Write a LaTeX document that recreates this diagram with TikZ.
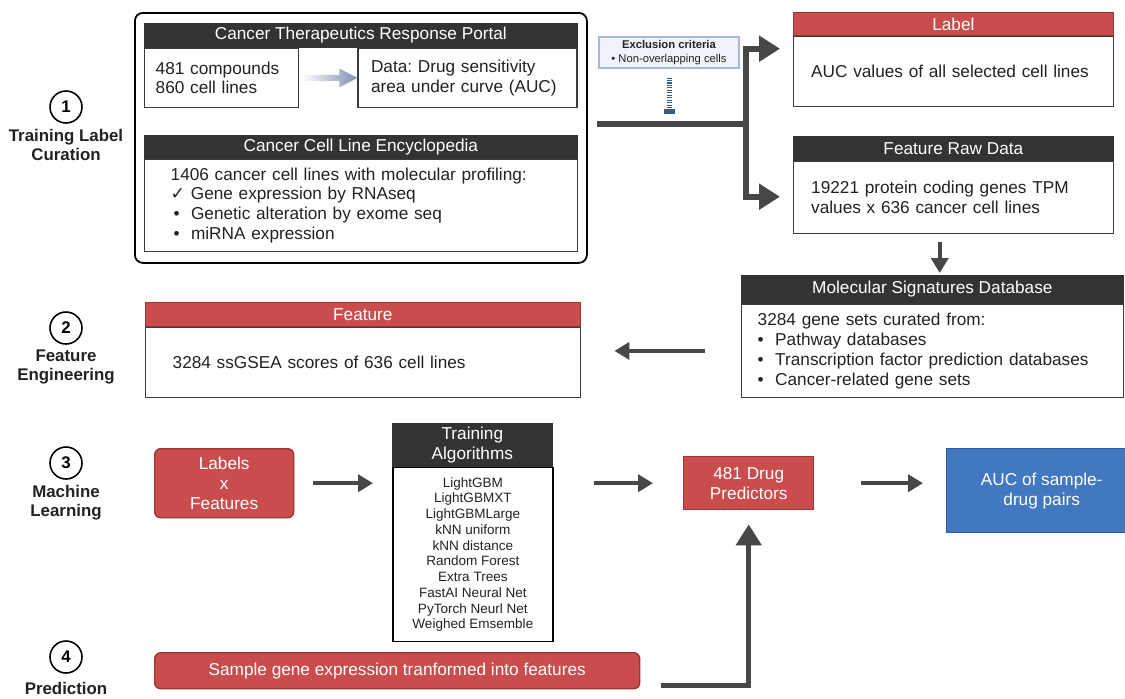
\documentclass[tikz,border=0pt]{standalone}
\usepackage{fontspec}
\setmainfont{Liberation Sans}
\newfontfamily\checkfont{DejaVu Sans}
\usetikzlibrary{arrows.meta,calc,positioning}

\definecolor{hdrgray}{HTML}{333333}
\definecolor{boxline}{HTML}{3C3C3C}
\definecolor{txtdark}{HTML}{222222}
\definecolor{redfill}{HTML}{C94D4D}
\definecolor{redline}{HTML}{9E3434}
\definecolor{bluefill}{HTML}{4277C2}
\definecolor{blueline}{HTML}{2C5C9E}
\definecolor{arrowgray}{HTML}{474747}
\definecolor{exfill}{HTML}{EEF2F9}
\definecolor{exline}{HTML}{A8B8D6}
\definecolor{exblue}{HTML}{2F5E8C}
\definecolor{arblue}{HTML}{7E8EB4}

\newcommand{\txtmain}{\fontsize{9.8}{11.3}\selectfont}
\newcommand{\txtsmall}{\fontsize{7.7}{8.96}\selectfont}
\newcommand{\txttiny}{\fontsize{6.4}{7.6}\selectfont}
\newcommand{\txtstep}{\fontsize{9.6}{10.8}\selectfont\bfseries}

\begin{document}
\frenchspacing
\begin{tikzpicture}[
    hdr/.style={fill=hdrgray, draw=hdrgray, text=white, inner sep=0pt, anchor=north west, font=\txtmain},
    redhdr/.style={hdr, fill=redfill, draw=redline},
    body/.style={draw=boxline, line width=0.8pt, fill=white, inner ysep=0pt, anchor=north west, align=left, font=\txtmain, text=txtdark},
    redbox/.style={fill=redfill, draw=redline, line width=0.8pt, text=white, align=center, font=\txtmain, inner sep=0pt, anchor=north west},
    stepnum/.style={circle, draw, line width=0.9pt, minimum size=0.64cm, inner sep=0pt, font=\txtstep},
    steptxt/.style={align=center, font=\txtstep, text=txtdark, inner sep=0pt},
    bigline/.style={draw=arrowgray, line width=0.12cm},
    bigarrow/.style={bigline, -{Triangle[length=0.42cm,width=0.5cm]}},
    midarrow/.style={draw=arrowgray, line width=0.09cm, -{Triangle[length=0.3cm,width=0.34cm]}},
    exdash/.style={draw=exblue, line width=0.1cm, dash pattern=on 0.6pt off 0.8pt, -{Rectangle[length=0.1cm,width=0.22cm]}}
]
\useasboundingbox (0,0) rectangle (22.5,-13.96);

% steps
\node[stepnum] (s1) at (1.32,-2.14) {1};
\node[steptxt, below=0.1cm of s1] (s1t) {Training Label\\Curation};
\node[stepnum] (s2) at (1.32,-6.56) {2};
\node[steptxt, below=0.1cm of s2] (s2t) {Feature\\Engineering};
\node[stepnum] (s3) at (1.32,-9.26) {3};
\node[steptxt, below=0.1cm of s3] (s3t) {Machine\\Learning};
\node[stepnum] (s4) at (1.32,-13.14) {4};
\node[steptxt, below=0.16cm of s4] (s4t) {Prediction};

% 1 training label curation
\node[draw=black, line width=1pt, rounded corners=0.16cm, minimum width=9.04cm, minimum height=5cm, anchor=north west] (grp) at (2.68,-0.24) {};
\node[hdr, minimum width=8.66cm, minimum height=0.48cm] (ctrph) at (2.88,-0.46) {Cancer Therapeutics Response Portal};
\node[body, text width=2.64cm, inner xsep=0.22cm, minimum height=1.18cm] (cmpb) at (ctrph.south west) {481 compounds\\860 cell lines};
\node[body, text width=3.86cm, inner xsep=0.26cm, minimum height=1.18cm, anchor=north east] (aucb) at (ctrph.south east) {Data: Drug sensitivity\\area under curve (AUC)};
\shade[left color=white, right color=arblue]
    ($(cmpb.east)+(0.04,0.06)$) -- ($(aucb.west)+(-0.36,0.06)$) -- ($(aucb.west)+(-0.36,0.19)$)
    -- (aucb.west) -- ($(aucb.west)+(-0.36,-0.19)$) -- ($(aucb.west)+(-0.36,-0.06)$)
    -- ($(cmpb.east)+(0.04,-0.06)$) -- cycle;
\node[hdr, minimum width=8.66cm, minimum height=0.46cm] (cclh) at (2.88,-2.7) {Cancer Cell Line Encyclopedia};
\node[body, text width=7.62cm, inner xsep=0.52cm, minimum height=1.84cm] (cclb) at (cclh.south west)
    {1406 cancer cell lines with molecular profiling:\\
     {\checkfont ✓} Gene expression by RNAseq\\
     \,•\ \ Genetic alteration by exome seq\\
     \,•\ \ miRNA expression};

\node[fill=exfill, draw=exline, line width=0.6pt, minimum width=2.8cm, minimum height=0.62cm, inner sep=0pt, align=center, font=\txttiny, text=txtdark] (excl) at (13.38,-1.05)
    {\textbf{Exclusion criteria}\\• Non-overlapping cells};
\draw[exdash] ([yshift=-0.18cm]excl.south) -- ([yshift=-0.9cm]excl.south);

\node[redhdr, minimum width=6.4cm, minimum height=0.46cm] (labh) at (15.86,-0.24) {Label};
\node[body, text width=5.7cm, inner xsep=0.35cm, minimum height=1.4cm] (labb) at (labh.south west) {AUC values of all selected cell lines};
\node[hdr, minimum width=6.4cm, minimum height=0.48cm] (frh) at (15.86,-2.72) {Feature Raw Data};
\node[body, text width=5.7cm, inner xsep=0.35cm, minimum height=1.44cm] (frb) at (frh.south west) {19221 protein coding genes TPM\\values x 636 cancer cell lines};

\coordinate (mstart) at (11.94,-2.48);
\coordinate (split) at (14.92,-2.48);
\draw[bigline] (mstart) -- (split);
\draw[bigarrow, shorten >=0.26cm] (split) |- ([yshift=-0.26cm]labb.north west);
\draw[bigarrow, shorten >=0.26cm] (split) |- ([yshift=-0.72cm]frb.north west);

% 2 feature engineering
\node[hdr, minimum width=7.64cm, minimum height=0.56cm] (msh) at (14.82,-5.5) {Molecular Signatures Database};
\node[body, text width=7.0cm, inner xsep=0.32cm, minimum height=1.86cm] (msb) at (msh.south west)
    {3284 gene sets curated from:\\
     •\ \ Pathway databases\\
     •\ \ Transcription factor prediction databases\\
     •\ \ Cancer-related gene sets};
\coordinate (dtop) at ([xshift=-0.28cm]frb.south);
\draw[midarrow, line width=0.08cm, shorten <=0.16cm, shorten >=0.04cm] (dtop) -- (dtop |- msh.north);

\node[redhdr, minimum width=8.7cm, minimum height=0.48cm] (feh) at (2.9,-6.04) {Feature};
\node[body, text width=7.62cm, inner xsep=0.54cm, minimum height=1.4cm] (feb) at (feh.south west) {3284 ssGSEA scores of 636 cell lines};
\draw[midarrow, shorten <=0.72cm, shorten >=0.66cm] (msb.west) -- (msb.west -| feb.east);

% 3 machine learning
\node[redbox, rounded corners=0.12cm, minimum width=2.78cm, minimum height=1.38cm] (lxf) at (3.08,-8.96) {Labels\\x\\Features};
\node[hdr, align=center, minimum width=3.2cm, minimum height=0.86cm] (trh) at (7.84,-8.46) {Training\\Algorithms};
\node[draw=black, line width=1pt, fill=white, minimum width=3.2cm, minimum height=3.48cm, inner sep=0pt, anchor=north west, align=center, font=\txtsmall, text=txtdark] (trb) at (trh.south west)
    {LightGBM\\LightGBMXT\\LightGBMLarge\\kNN uniform\\kNN distance\\Random Forest\\Extra Trees\\FastAI Neural Net\\PyTorch Neurl Net\\Weighed Emsemble};
\node[redbox, minimum width=2.6cm, minimum height=1.06cm] (pred) at (13.66,-9.12) {481 Drug\\Predictors};
\node[redbox, fill=bluefill, draw=blueline, minimum width=3.8cm, minimum height=1.68cm] (auc) at (18.92,-8.96) {AUC of sample-\\drug pairs};

\draw[midarrow, shorten <=0.38cm, shorten >=0.38cm] (lxf.east) -- (lxf.east -| trh.west);
\draw[midarrow, shorten <=0.8cm, shorten >=0.6cm] (pred.west -| trb.east) -- (pred.west);
\draw[midarrow, shorten <=0.94cm, shorten >=0.46cm] (pred.east) -- (pred.east -| auc.west);

% 4 prediction
\node[redbox, rounded corners=0.12cm, minimum width=9.7cm, minimum height=0.72cm] (samp) at (3.08,-13.04) {Sample gene expression tranformed into features};
\draw[bigarrow, line width=0.1cm, shorten <=0.42cm, shorten >=0.28cm] ([yshift=-0.3cm]samp.east) -| (pred.south);
\end{tikzpicture}
\end{document}
